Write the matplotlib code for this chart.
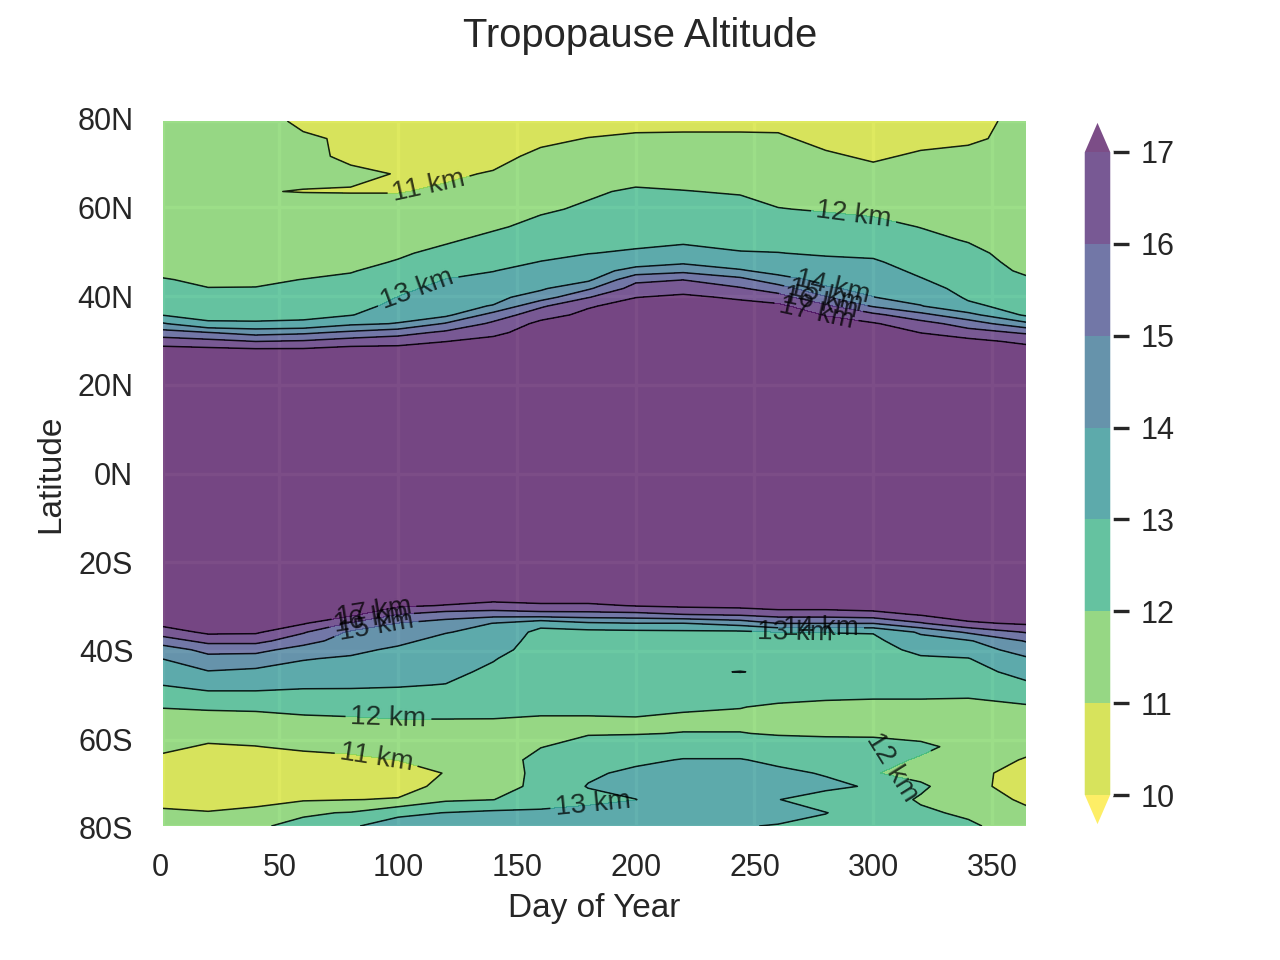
import matplotlib
matplotlib.use('Agg')
import matplotlib.pyplot as plt
import matplotlib.transforms as mtransforms
import numpy as np

plt.rcParams['font.family'] = ['Liberation Sans', 'DejaVu Sans']
plt.rcParams['text.color'] = '.15'
plt.rcParams['axes.labelcolor'] = '.15'
plt.rcParams['xtick.color'] = '.15'
plt.rcParams['ytick.color'] = '.15'

# latitudes of the rows, north to south
lats = [80, 76, 72, 68, 64, 60, 56, 53, 50, 48, 46, 44, 42, 40, 38, 36, 34, 32, 30, 28, 25,
        0,
        -25, -28, -30, -32, -34, -36, -38, -40, -42, -45, -48, -50, -53, -56, -59, -62, -65, -68, -71, -74, -77, -80]
days = [1, 20, 40, 60, 80, 100, 120, 140, 160, 180, 200, 220, 244, 260, 280, 300, 320, 340, 365]

# tropopause altitude (km) per day, same order as lats
alt_001 = [11.3, 11.3, 11.3, 11.4, 11.4, 11.5, 11.5, 11.5, 11.6, 11.7, 11.8, 12.05, 12.3, 12.6, 12.8, 12.95, 14.1, 15.4, 16.5, 17.4, 17.9,
           18.2,
           18, 17.9, 17.8, 17.6, 17.3, 16.5, 15.5, 14.5, 14.02, 13.5, 13.02, 12.5, 12.02, 11.8, 11.6, 11.2, 10.8, 10.5, 10.4, 10.8, 11.1, 11.4]
alt_020 = [11.3, 11.3, 11.3, 11.4, 11.4, 11.4, 11.5, 11.5, 11.6, 11.7, 11.75, 11.85, 12.02, 12.3, 12.55, 12.8, 13.1, 15.02, 16.3, 17.3, 17.9,
           18.2,
           18, 18, 17.9, 17.7, 17.5, 17.2, 16.3, 15.3, 14.7, 13.95, 13.3, 12.85, 12.1, 11.7, 11.3, 10.9, 10.5, 10.3, 10.3, 10.6, 11.05, 11.4]
alt_040 = [11.3, 11.3, 11.3, 11.3, 11.04, 11.4, 11.5, 11.5, 11.6, 11.7, 11.8, 11.9, 12.02, 12.3, 12.55, 12.75, 13.1, 14.6, 15.98, 17.2, 17.9,
           18.2,
           18, 18, 17.9, 17.8, 17.6, 17.15, 16.3, 15.3, 14.6, 13.8, 13.3, 12.85, 12.15, 11.7, 11.35, 10.98, 10.6, 10.4, 10.4, 10.75, 11.2, 11.9]
alt_060 = [10.85, 11.1, 11.2, 11.2, 10.97, 11.5, 11.5, 11.55, 11.65, 11.75, 11.85, 12.01, 12.2, 12.4, 12.6, 12.8, 13.15, 14.8, 16.1, 17.2, 17.9,
           18.2,
           18, 17.9, 17.8, 17.5, 17.1, 16.1, 15.4, 14.6, 14.05, 13.7, 13.15, 12.8, 12.3, 11.8, 11.45, 11.15, 10.7, 10.4, 10.5, 10.9, 11.9, 12.2]
alt_080 = [10.7, 10.9, 10.85, 11.15, 10.95, 11.5, 11.6, 11.65, 11.7, 11.8, 11.95, 12.15, 12.3, 12.45, 12.6, 12.95, 13.8, 15.2, 16.45, 17.4, 17.9,
           18.2,
           18, 17.8, 17.6, 17.25, 15.9, 14.85, 14.5, 14.2, 13.9, 13.5, 13.1, 12.85, 12.4, 11.85, 11.5, 11.2, 10.85, 10.6, 10.7, 10.98, 12.05, 12.9]
alt_100 = [10.5, 10.5, 10.6, 10.97, 10.97, 11.3, 11.55, 11.7, 11.9, 12.05, 12.3, 12.55, 12.8, 13.02, 13.3, 13.6, 14.05, 15.6, 16.6, 17.4, 17.9,
           18.2,
           17.9, 17.5, 17.15, 15.98, 14.98, 14.6, 14.2, 13.85, 13.65, 13.35, 13.05, 12.85, 12.5, 11.95, 11.65, 11.35, 11.02, 10.65, 10.7, 11.05, 12.8, 13.4]
alt_120 = [10.4, 10.4, 10.6, 10.9, 11.1, 11.4, 11.65, 11.9, 12.2, 12.45, 12.75, 13.02, 13.25, 13.45, 13.7, 13.75, 15.1, 16.2, 16.98, 17.5, 18,
           18.2,
           17.9, 17.5, 16.95, 15.5, 14.6, 14.05, 13.7, 13.55, 13.4, 13.2, 12.98, 12.8, 12.5, 11.95, 11.7, 11.5, 11.3, 11.03, 11.2, 11.85, 13.02, 13.6]
alt_140 = [10.4, 10.6, 10.8, 11.05, 11.3, 11.6, 11.9, 12.2, 12.5, 12.75, 12.98, 13.2, 13.45, 13.7, 14.05, 15.4, 16.2, 16.75, 17.3, 17.6, 18,
           18.2,
           18, 17.4, 16.7, 15.4, 13.98, 13.7, 13.5, 13.3, 13.05, 12.85, 12.7, 12.6, 12.4, 11.95, 11.7, 11.6, 11.5, 11.4, 11.5, 11.98, 13.2, 13.7]
alt_160 = [10.5, 10.85, 11.15, 11.4, 11.65, 11.9, 12.2, 12.45, 12.8, 13.02, 13.3, 13.55, 13.85, 14.5, 15.85, 16.6, 17.25, 17.5, 17.7, 17.8, 18,
           18.2,
           18, 17.6, 16.8, 15.6, 13.3, 12.75, 12.65, 12.6, 12.55, 12.5, 12.4, 12.35, 12.2, 11.9, 11.75, 11.97, 12.3, 12.3, 12.3, 12.6, 13.15, 13.8]
alt_180 = [10.7, 11.02, 11.3, 11.6, 11.9, 12.1, 12.4, 12.65, 12.98, 13.25, 13.5, 13.8, 14.85, 15.95, 16.9, 17.25, 17.5, 17.7, 17.8, 17.9, 18,
           18.2,
           18, 17.6, 16.8, 15.65, 13.85, 12.7, 12.65, 12.65, 12.6, 12.5, 12.4, 12.35, 12.2, 11.9, 11.95, 12.3, 12.6, 12.85, 13.05, 12.7, 13.4, 13.9]
alt_200 = [10.8, 11.1, 11.4, 11.7, 12.1, 12.35, 12.6, 12.8, 13.1, 13.5, 14.4, 15.75, 16.4, 16.98, 17.4, 17.6, 17.7, 17.8, 17.9, 17.9, 18,
           18.2,
           18, 17.6, 17.05, 15.7, 13.98, 12.75, 12.65, 12.6, 12.55, 12.45, 12.4, 12.3, 12.15, 11.95, 11.97, 12.35, 12.8, 13.2, 13.5, 12.98, 13.6, 13.9]
alt_220 = [10.75, 11.15, 11.5, 11.75, 12.02, 12.3, 12.6, 12.85, 13.3, 13.8, 14.75, 15.98, 16.6, 17.2, 17.5, 17.65, 17.75, 17.8, 17.9, 17.95, 18,
           18.2,
           18, 17.7, 17.2, 15.98, 13.98, 12.8, 12.7, 12.65, 12.6, 12.88, 12.4, 12.3, 12.1, 11.85, 12.02, 12.5, 13.05, 13.5, 13.8, 13.8, 13.7, 13.6]
alt_244 = [10.75, 11.15, 11.45, 11.7, 11.95, 12.2, 12.5, 12.75, 13.05, 13.5, 14.1, 15.3, 16.1, 16.85, 17.35, 17.6, 17.7, 17.8, 17.9, 17.95, 18,
           18.2,
           18, 17.8, 17.3, 16.15, 14.4, 12.8, 12.7, 12.7, 12.6, 13.02, 12.6, 12.4, 12.02, 11.85, 12.02, 12.5, 13.05, 13.5, 13.8, 13.8, 13.6, 13.05]
alt_260 = [10.8, 11.1, 11.4, 11.6, 11.8, 12.02, 12.4, 12.7, 13.02, 13.4, 13.7, 14.35, 15.5, 16.4, 17.25, 17.6, 17.7, 17.8, 17.9, 17.9, 18,
           18.2,
           18, 17.9, 17.5, 16.4, 15.02, 13.02, 12.7, 12.7, 12.6, 12.88, 12.55, 12.25, 11.9, 11.7, 11.95, 12.3, 12.8, 13.2, 13.4, 13.02, 13.3, 12.95]
alt_280 = [10.6, 10.8, 11.1, 11.4, 11.7, 11.95, 12.25, 12.55, 12.9, 13.2, 13.45, 13.75, 14.1, 15.1, 16.2, 16.95, 17.35, 17.6, 17.8, 17.9, 18,
           18.2,
           18, 17.9, 17.5, 16.4, 15.02, 13.02, 12.75, 12.7, 12.65, 12.6, 12.4, 12.15, 11.85, 11.7, 11.9, 12.3, 12.6, 12.93, 13.2, 12.6, 13.02, 12.8]
alt_300 = [10.6, 10.7, 10.9, 11.2, 11.5, 11.85, 12.2, 12.5, 12.85, 13.1, 13.3, 13.55, 13.8, 14.02, 14.9, 16.25, 17.1, 17.5, 17.7, 17.85, 18,
           18.2,
           18, 17.9, 17.6, 16.6, 15.02, 13.05, 12.8, 12.7, 12.6, 12.5, 12.3, 12.1, 11.85, 11.75, 11.9, 12.25, 12.3, 12.05, 12.9, 12.5, 12.6, 12.65]
alt_320 = [10.6, 10.8, 11.1, 11.3, 11.5, 11.75, 11.98, 12.2, 12.5, 12.65, 12.85, 13.05, 13.3, 13.6, 14.05, 15.3, 16.4, 16.98, 17.4, 17.7, 18,
           18.2,
           18, 18, 17.6, 17.1, 15.9, 14.15, 13.6, 13.2, 12.9, 12.6, 12.3, 12.1, 11.85, 11.7, 11.7, 12.2, 11.9, 11.7, 12.15, 11.9, 12.15, 12.5]
alt_340 = [10.7, 10.85, 11.25, 11.4, 11.55, 11.65, 11.8, 11.95, 12.2, 12.3, 12.45, 12.6, 12.75, 12.9, 13.15, 14.3, 15.55, 16.4, 17.3, 17.6, 17.9,
           18.2,
           18, 18, 17.9, 17.5, 16.85, 15.15, 13.9, 13.45, 12.97, 12.65, 12.35, 12.1, 11.8, 11.7, 11.7, 11.7, 11.55, 11.3, 11.4, 11.6, 11.85, 12.15]
alt_365 = [11.3, 11.3, 11.35, 11.4, 11.45, 11.5, 11.5, 11.55, 11.65, 11.75, 11.85, 12.1, 12.35, 12.6, 12.7, 12.8, 14.2, 15.85, 16.75, 17.4, 17.9,
           18.2,
           18, 17.9, 17.8, 17.5, 17.15, 16.1, 15.1, 14.5, 13.9, 13.35, 12.85, 12.45, 11.9, 11.7, 11.5, 11.3, 10.9, 10.6, 10.4, 10.8, 11.2, 11.5]

levels = [10, 11, 12, 13, 14, 15, 16, 17]
xticks = [1, 50, 100, 150, 200, 250, 300, 350]
xticklabels = ['0', '50', '100', '150', '200', '250', '300', '350']
yticks = [-80, -60.4, -40.25, -20.1, 0, 20.1, 40.25, 60.4, 80]
yticklabels = ['80S', '60S', '40S', '20S', '0N', '20N', '40N', '60N', '80N']

# where each contour gets its label (day, latitude)
label_spots = {
    11: [(113, 65), (91, -64)],
    12: [(292, 59.6), (96, -54.6), (307, -66)],
    13: [(108, 42), (182, -74.5), (267, -35)],
    14: [(283, 43.2), (278, -34.3)],
    15: [(280, 40.3), (91, -36)],
    16: [(278, 38.7), (89, -33.8)],
    17: [(276, 36.4), (90, -32)],
}

Z = np.array([alt_001, alt_020, alt_040, alt_060, alt_080, alt_100, alt_120, alt_140, alt_160, alt_180,
              alt_200, alt_220, alt_244, alt_260, alt_280, alt_300, alt_320, alt_340, alt_365]).T

fig = plt.figure(figsize=(6.4, 4.8), dpi=200)
ax = fig.add_axes([163 / 1280, 1 - 826 / 960, 863 / 1280, 705 / 960])
ax.set_facecolor('#EAEAF2')
ax.grid(True, color='white', linewidth=1.2)
ax.set_axisbelow(True)
for s in ax.spines.values():
    s.set_visible(False)

cf = ax.contourf(days, lats, Z, levels=levels, cmap='viridis_r', extend='both', alpha=0.7)
for lvl in levels[1:]:
    cs = ax.contour(days, lats, Z, levels=[lvl], colors='k', linewidths=0.55, alpha=0.85)
    texts = ax.clabel(cs, manual=label_spots[lvl], fmt='%d km', fontsize=10, inline=True)
    for t in texts:
        t.set_alpha(0.75)
    if lvl == 12:
        # this one runs downhill across the wedge
        texts[2].set_rotation(-58)

ax.set_xlim(1, 364.3)
ax.set_ylim(-80, 80)
ax.set_xticks(xticks)
ax.set_xticklabels(xticklabels)
ax.set_yticks(yticks)
ax.set_yticklabels(yticklabels)
ax.tick_params(length=0, labelsize=11)
ax.tick_params(axis='x', pad=9.6)
ax.tick_params(axis='y', pad=10.7)
ax.set_xlabel('Day of Year', fontsize=12, labelpad=3.6)
ax.set_ylabel('Latitude', fontsize=12, labelpad=3.8)


def nudge(tick, dx, dy):
    # shift a tick label by some pixels of the saved picture
    lab = tick.label1
    lab.set_transform(lab.get_transform() + mtransforms.ScaledTranslation(dx / 200, dy / 200, fig.dpi_scale_trans))


nudge(ax.xaxis.get_major_ticks()[0], -3, 0)
nudge(ax.yaxis.get_major_ticks()[0], 0, -1.5)
nudge(ax.yaxis.get_major_ticks()[-1], 0, 2)

cax = fig.add_axes([1083 / 1280, 1 - 828.5 / 960, 29 / 1280, 710 / 960])
cax.set_facecolor('#EAEAF2')
cbar = fig.colorbar(cf, cax=cax, extendfrac=0.052, ticks=levels)
cbar.outline.set_edgecolor('white')
cbar.outline.set_linewidth(1.25)
cbar.ax.tick_params(length=6, width=1.2, color='.15', labelsize=11, pad=4.2)

fig.suptitle('Tropopause Altitude', fontsize=14.4, y=1 - 36 / 960, va='center')
fig.savefig('out.png', dpi=200)
